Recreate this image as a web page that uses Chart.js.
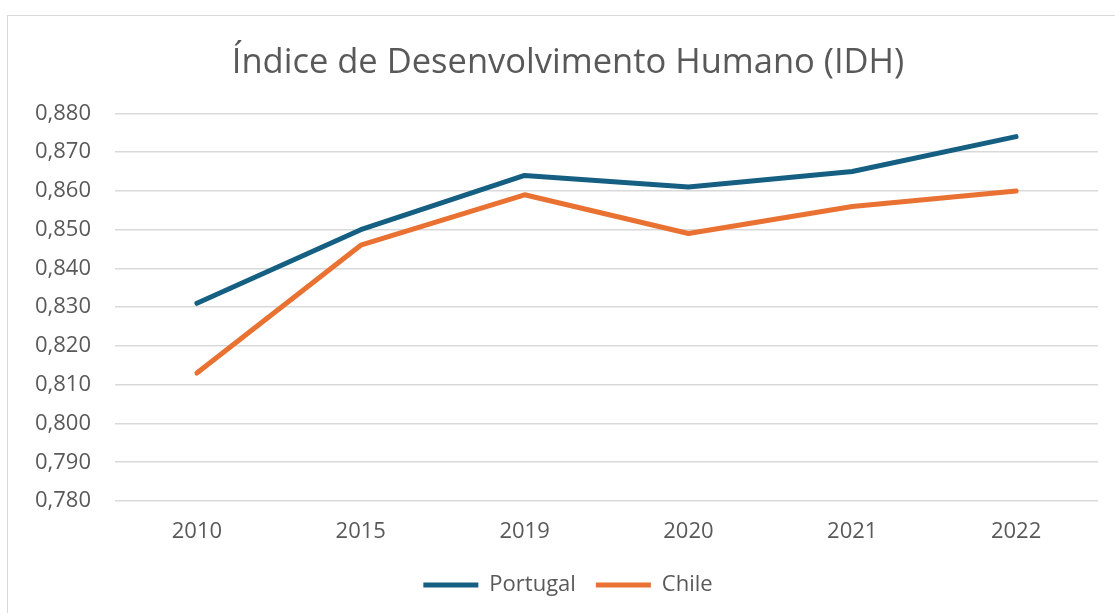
<!DOCTYPE html>
<html>
<head>
<meta charset="utf-8">
<script src="https://cdn.jsdelivr.net/npm/chart.js@4"></script>
<style>
  html, body { margin: 0; padding: 0; background: #fff; }
  #wrap { position: relative; width: 1115px; height: 613px; overflow: hidden; }
  #frame { position: absolute; left: 7px; top: 15px; width: 1120px; height: 620px;
           border: 1px solid #d9d9d9; box-sizing: border-box; }
  canvas { position: absolute; left: 0; top: 0; }
</style>
</head>
<body>
<div id="wrap">
  <div id="frame"></div>
  <canvas id="idh-chart" width="1115" height="613"></canvas>
</div>
<script>
// dados
const anos     = ['2010', '2015', '2019', '2020', '2021', '2022'];
const portugal = [0.831, 0.850, 0.864, 0.861, 0.865, 0.874];
const chile    = [0.813, 0.846, 0.859, 0.849, 0.856, 0.860];
const yMin = 0.78, yMax = 0.88, yStep = 0.01;

const FONT = '"Open Sans", "Noto Sans", sans-serif';
const GRAY = '#595959';

Chart.defaults.font.family = FONT;
Chart.defaults.color = GRAY;

function serie(label, data, color) {
  return {
    label, data,
    borderColor: color,
    backgroundColor: color,
    borderWidth: 5,
    borderCapStyle: 'round',
    borderJoinStyle: 'round',
    pointRadius: 0,
    pointHoverRadius: 0,
    tension: 0,
  };
}

// título e legenda ficam centrados na moldura, não na área do gráfico
const shiftBoxes = {
  id: 'shiftBoxes',
  afterLayout(chart) {
    const dx = 19;
    for (const box of [chart.titleBlock, chart.legend]) {
      if (!box) continue;
      box.left += dx;
      box.right += dx;
    }
  },
};

new Chart(document.getElementById('idh-chart'), {
  type: 'line',
  data: {
    labels: anos,
    datasets: [
      serie('Portugal', portugal, '#156082'),
      serie('Chile', chile, '#E97132'),
    ],
  },
  plugins: [shiftBoxes],
  options: {
    responsive: false,
    animation: false,
    layout: { padding: { left: 0, right: 17, top: 0, bottom: 7 } },
    plugins: {
      title: {
        display: true,
        text: 'Índice de Desenvolvimento Humano (IDH)',
        color: GRAY,
        font: { size: 34.5, weight: 'normal' },
        padding: { top: 42, bottom: 30 },
      },
      legend: {
        position: 'bottom',
        labels: {
          usePointStyle: true,
          pointStyle: 'line',
          pointStyleWidth: 55,
          boxHeight: 5,
          padding: 20,
          color: GRAY,
          font: { size: 22 },
        },
      },
      tooltip: { enabled: false },
    },
    scales: {
      x: {
        offset: true,
        grid: { display: false },
        border: { display: false },
        afterFit: (scale) => { scale.height = 53; },
        ticks: { color: GRAY, font: { size: 22 }, padding: 10 },
      },
      y: {
        min: yMin,
        max: yMax,
        afterFit: (scale) => { scale.width = 115; },
        ticks: {
          stepSize: yStep,
          color: GRAY,
          font: { size: 22 },
          padding: 24,
          callback: (v) => v.toFixed(3).replace('.', ','),
        },
        grid: { color: '#d9d9d9', lineWidth: 1.5, drawTicks: false },
        border: { display: false },
      },
    },
  },
});
</script>
</body>
</html>
